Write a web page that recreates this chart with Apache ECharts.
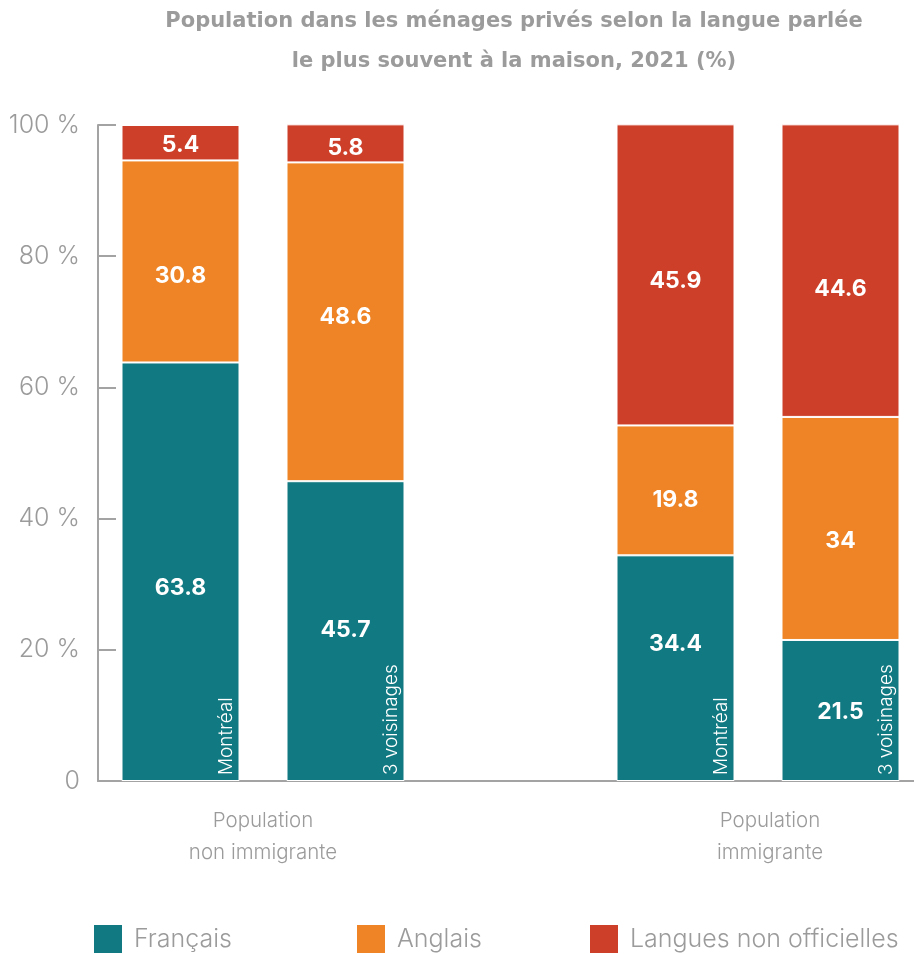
<!DOCTYPE html>
<html>
<head>
<meta charset="utf-8">
<script src="https://cdn.jsdelivr.net/npm/echarts@6/dist/echarts.min.js"></script>
<style>
  html, body { margin: 0; padding: 0; background: #fff; }
  #chart { width: 914px; height: 954px; }
</style>
</head>
<body>
<div id="chart"></div>
<script>
// Bars: two per population group, with an empty slot between the groups
const categories = ['Montréal', '3 voisinages', '', 'Montréal', '3 voisinages'];
const groupLabels = ['Population\nnon immigrante', 'Population\nimmigrante'];
const seriesNames = ['Français', 'Anglais', 'Langues non officielles'];
const francais = [63.8, 45.7, null, 34.4, 21.5];
const anglais = [30.8, 48.6, null, 19.8, 34];
const nonOfficielles = [5.4, 5.8, null, 45.9, 44.6];
const yTickLabels = ['0', '20 %', '40 %', '60 %', '80 %', '100 %'];

// Vertical nudges (px) for the value labels inside each segment
const labelNudge = [
  [16, -1, 0, -24, 2],
  [15, -5, 0, 10, 13],
  [2, 5, 0, 6, 18]
];

const colors = ['#117981', '#ee8425', '#cd3f28'];
const grey = '#9b9b9b';
const axisGrey = '#a3a3a3';

const chart = echarts.init(document.getElementById('chart'), null, { renderer: 'canvas' });

function makeSeries(k, data) {
  return {
    name: seriesNames[k],
    type: 'bar',
    stack: 'total',
    barWidth: 118,
    clip: false,
    data: data.map((v, i) => ({
      value: v,
      label: { offset: [0, labelNudge[k][i]] }
    })),
    itemStyle: { color: colors[k], borderColor: '#fff', borderWidth: 1 },
    label: {
      show: true,
      position: 'inside',
      color: '#fff',
      fontFamily: 'Inter',
      fontWeight: 'bold',
      fontSize: 23
    },
    emphasis: { disabled: true }
  };
}

const legendLefts = [92, 355, 588];

chart.setOption({
  animation: false,
  grid: {
    left: 98, width: 825, top: 125, bottom: 173,
    containLabel: false, outerBoundsMode: 'none'
  },
  legend: seriesNames.map((n, i) => ({
    data: [n],
    left: legendLefts[i],
    top: 923,
    padding: 0,
    icon: 'rect',
    itemWidth: 30,
    itemHeight: 30,
    selectedMode: false,
    textStyle: {
      fontFamily: 'Inter',
      fontWeight: 300,
      fontSize: 25,
      color: grey,
      padding: [0, 0, 0, 6]
    }
  })),
  xAxis: {
    type: 'category',
    data: categories,
    axisLine: { show: true, lineStyle: { color: axisGrey, width: 2 } },
    axisTick: { show: false },
    axisLabel: { show: false }
  },
  yAxis: {
    type: 'value',
    min: 0,
    max: 100,
    interval: 20,
    splitLine: { show: false },
    axisLine: { show: true, lineStyle: { color: axisGrey, width: 2 } },
    axisTick: { show: true, inside: true, length: 18, lineStyle: { color: axisGrey, width: 2 } },
    axisLabel: {
      margin: 18,
      fontFamily: 'Inter',
      fontWeight: 300,
      fontSize: 25,
      color: grey,
      formatter: v => yTickLabels[Math.round(v / 20)]
    }
  },
  series: [
    makeSeries(0, francais),
    makeSeries(1, anglais),
    makeSeries(2, nonOfficielles)
  ]
});

// Text placed from the axis scales: title, bar names and group names
function layoutTexts() {
  const graphics = [];
  graphics.push({
    type: 'text',
    id: 'title',
    x: 514,
    y: 42,
    z: 100,
    style: {
      text: 'Population dans les ménages privés selon la langue parlée\nle plus souvent à la maison, 2021 (%)',
      fill: grey,
      fontFamily: 'DejaVu Sans',
      fontWeight: 'bold',
      fontSize: 21,
      lineHeight: 40,
      textAlign: 'center',
      textVerticalAlign: 'middle'
    }
  });
  categories.forEach((name, i) => {
    if (!name) return;
    const p = chart.convertToPixel({ gridIndex: 0 }, [i, 0]);
    graphics.push({
      type: 'text',
      id: 'cat' + i,
      x: p[0] + 55,
      y: p[1] - 6,
      z: 100,
      rotation: Math.PI / 2,
      style: {
        text: name,
        fill: '#fff',
        fontFamily: 'Inter',
        fontWeight: 300,
        fontSize: 19,
        textAlign: 'left',
        textVerticalAlign: 'bottom'
      }
    });
  });
  const groupOffsets = [0, 12];
  groupLabels.forEach((g, k) => {
    const a = chart.convertToPixel({ gridIndex: 0 }, [k * 3, 0]);
    const b = chart.convertToPixel({ gridIndex: 0 }, [k * 3 + 1, 0]);
    graphics.push({
      type: 'text',
      id: 'grp' + k,
      x: (a[0] + b[0]) / 2 + groupOffsets[k],
      y: 837,
      z: 100,
      style: {
        text: g,
        fill: grey,
        fontFamily: 'Inter',
        fontWeight: 300,
        fontSize: 20.5,
        lineHeight: 32,
        textAlign: 'center',
        textVerticalAlign: 'middle'
      }
    });
  });
  chart.setOption({ graphic: graphics });
}
layoutTexts();
</script>
</body>
</html>
